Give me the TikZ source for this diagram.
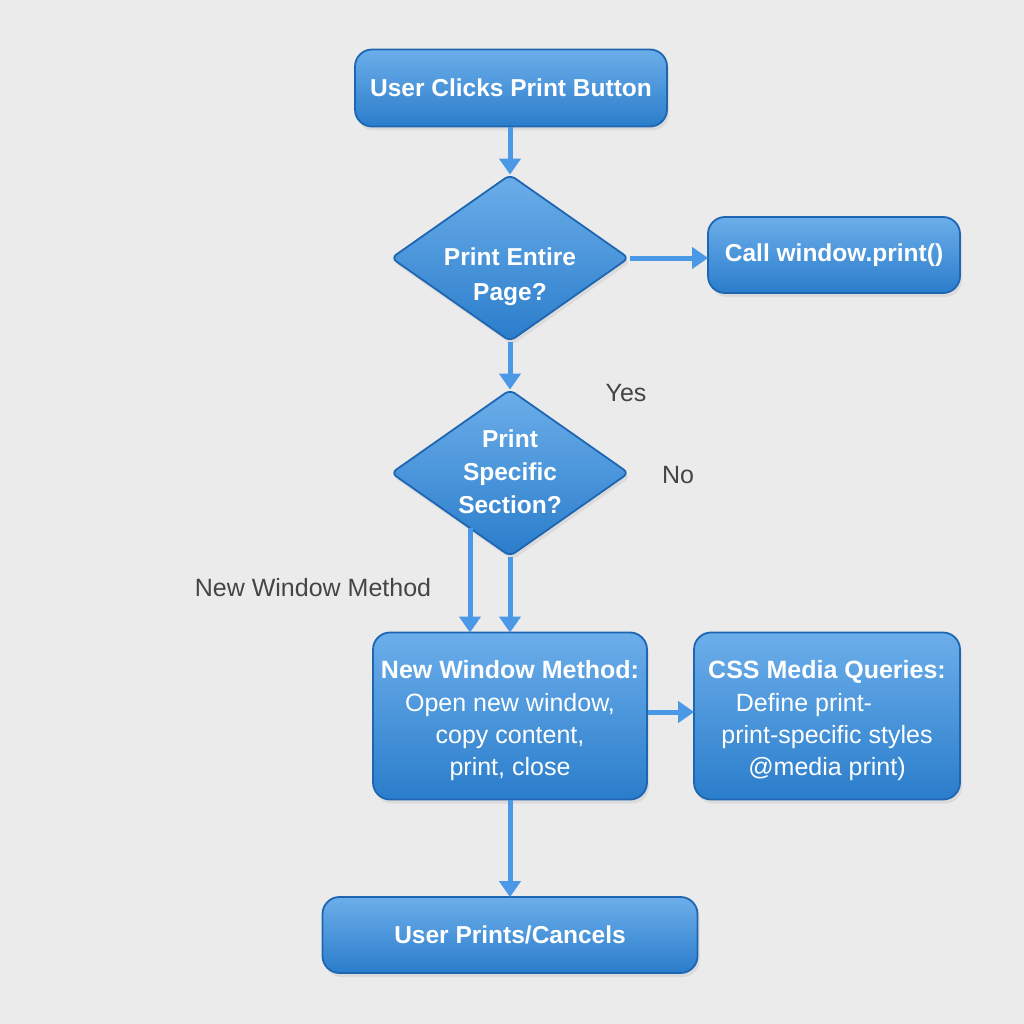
\documentclass[tikz,border=0pt]{standalone}
\usepackage{fontspec}
\setmainfont{Liberation Sans}
\usetikzlibrary{shapes.geometric,arrows.meta,shadows,calc}
\definecolor{bg}{HTML}{EBEBEB}
\definecolor{boxtop}{HTML}{6CAEEA}
\definecolor{boxbot}{HTML}{2A7DCB}
\definecolor{boxline}{HTML}{1F66B2}
\definecolor{arrowc}{HTML}{4A98E6}
\definecolor{labelc}{HTML}{454545}
\tikzset{
  boxstyle/.style={rectangle, rounded corners=17pt, draw=boxline, line width=1.8pt,
    top color=boxtop, bottom color=boxbot, inner sep=0pt,
    drop shadow={opacity=0.15, shadow xshift=2pt, shadow yshift=-4pt},
    text=white, align=center, font=\fontsize{24.5}{32}\selectfont},
  bodytext/.style={font=\fontsize{25}{32.3}\selectfont},
  decstyle/.style={diamond, aspect=1.43, rounded corners=6pt, draw=boxline, line width=1.8pt,
    top color=boxtop, bottom color=boxbot, inner sep=0pt,
    minimum width=238pt, minimum height=167pt,
    drop shadow={opacity=0.15, shadow xshift=2pt, shadow yshift=-4pt}},
  dectext/.style={text=white, align=center, font=\fontsize{24.5}{33}\selectfont\bfseries},
  arr/.style={draw=arrowc, line width=5pt, -{Triangle[length=16pt,width=21pt]}, shorten >=-1pt},
  lbl/.style={text=labelc, font=\fontsize{25}{30}\selectfont}
}
\begin{document}
\begin{tikzpicture}[x=1pt,y=-1pt]
\fill[bg] (0,0) rectangle (1024,1024);
\useasboundingbox (0,0) rectangle (1024,1024);

\node[boxstyle, minimum width=312pt, minimum height=77pt] (start) at (511,88) {\bfseries User Clicks Print Button};
\node[decstyle] (d1) at (510,258) {};
\node[dectext, font=\fontsize{24.5}{35}\selectfont\bfseries] (d1t) at (510,277) {Print Entire\\Page?};
\node[boxstyle, minimum width=252pt, minimum height=76pt] (call) at (834,255) {\bfseries Call window.print()};
\node[decstyle] (d2) at (510,473) {};
\node[dectext] (d2t) at (510,472) {Print\\Specific\\Section?};
\node[boxstyle, bodytext, minimum width=274pt, minimum height=167pt] (nw) at (510,716)
  {\rule{0pt}{28pt}\textbf{New Window Method:}\\Open new window,\\copy content,\\print, close};
\node[boxstyle, bodytext, minimum width=266pt, minimum height=167pt] (css) at (827,716)
  {\rule{0pt}{28pt}\textbf{CSS Media Queries:}\\\mbox{Define print-\hspace{46pt}}\\print-specific styles\\@media print)};
\node[boxstyle, minimum width=375pt, minimum height=76pt] (final) at (510,935) {\bfseries User Prints/Cancels};

\node[lbl] (yes) at (626,393) {Yes};
\node[lbl] (no) at (678,475) {No};
\node[lbl] (nwm) at (313,588) {New Window Method};

\coordinate (d2l) at ($(d2.center)+(-40,55)$);

\draw[arr] (d1.north |- start.south) -- (d1.north);
\draw[arr] (d1.east) -- (call.west |- d1.east);
\draw[arr] (d1.south) -- (d2.north);
\draw[arr] (d2l) -- (d2l |- nw.north);
\draw[arr] (d2.south) -- (nw.north);
\draw[arr] ($(nw.east)+(0,-4)$) -- ($(css.west)+(0,-4)$);
\draw[arr] (nw.south) -- (final.north);
\end{tikzpicture}
\end{document}
